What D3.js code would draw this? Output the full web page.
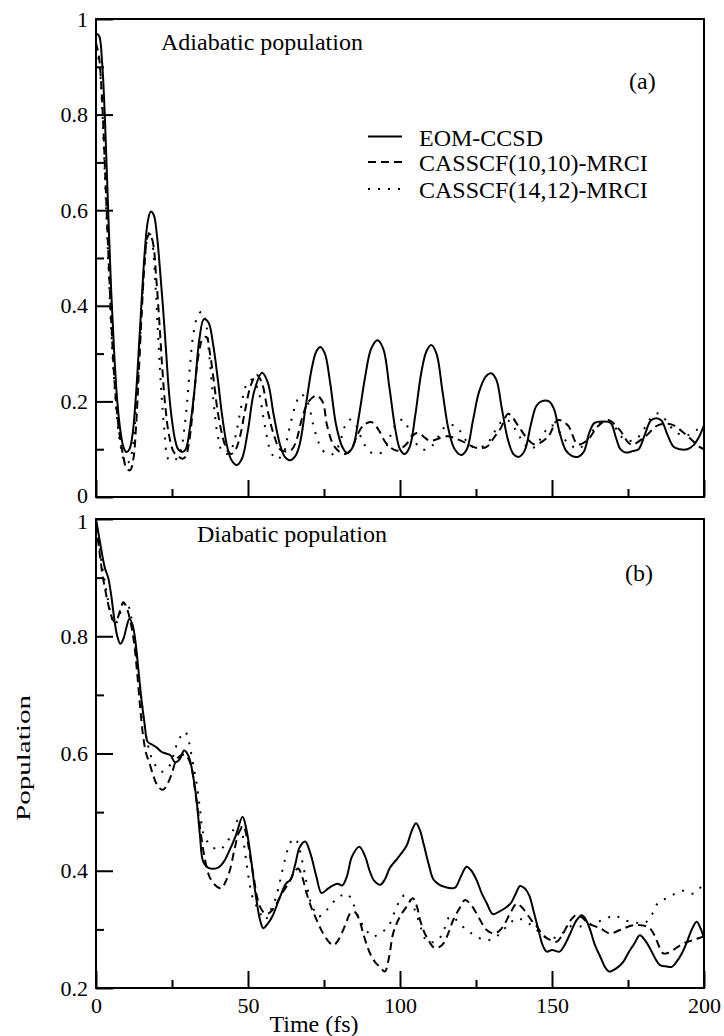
<!DOCTYPE html>
<html>
<head>
<meta charset="utf-8">
<script src="https://cdn.jsdelivr.net/npm/d3@7"></script>
<style>
body { margin: 0; background: #fff; }
svg { display: block; }
text { font-family: "Liberation Serif", "Times New Roman", serif; fill: #000; }
</style>
</head>
<body>
<svg id="chart"></svg>
<script>
// ---- data: [time (fs), population] ----
const seriesNames = ['EOM-CCSD', 'CASSCF(10,10)-MRCI', 'CASSCF(14,12)-MRCI'];

const adiaEom = [[0,.97],[1,.965],[2,.91],[3,.78],[4,.6],[5,.43],[6,.3],[7,.2],[8,.14],[9,.105],[10,.094],[11,.1],[12,.13],[13,.2],[14,.3],[15,.41],[16,.51],[17,.575],[18,.597],[19,.59],[20,.55],[21,.48],[22,.4],[23,.31],[24,.22],[25,.16],[26,.12],[27,.1],[28.3,.094],[29.5,.1],[31,.15],[32.5,.23],[34,.33],[35.5,.372],[37,.365],[38.5,.32],[40,.25],[41.5,.17],[43,.11],[44.5,.078],[46.3,.067],[48,.08],[50,.14],[52,.22],[54.6,.26],[56.5,.24],[58.5,.17],[60.5,.11],[62,.085],[63.8,.077],[65.5,.085],[67,.11],[69,.19],[71,.27],[72.5,.305],[73.8,.314],[75.3,.3],[77,.24],[79,.15],[81,.105],[82.6,.092],[84.5,.105],[86.5,.17],[88.5,.25],[90.5,.31],[92.6,.328],[94.5,.31],[96.5,.23],[98.5,.14],[100,.1],[101.5,.09],[103.2,.105],[105,.17],[107,.26],[108.7,.305],[110.3,.318],[112,.3],[114,.22],[116,.14],[118,.1],[120.2,.088],[122,.1],[124,.16],[126,.22],[128.2,.252],[130,.259],[131.7,.245],[133.5,.185],[135.5,.12],[137.3,.09],[139.1,.084],[141,.097],[143,.15],[144.8,.19],[146.5,.2],[149,.2],[150.6,.185],[152.5,.135],[154.5,.098],[156.5,.086],[158.6,.084],[160.5,.095],[162.3,.135],[164,.155],[167,.158],[169.3,.155],[171,.125],[172.5,.1],[174.2,.093],[176.5,.096],[178.5,.1],[180.5,.13],[182.5,.16],[184.3,.165],[186,.16],[188,.13],[190,.105],[192,.1],[194.5,.1],[196.5,.108],[198.3,.125],[200,.15]];

const adiaMrci10 = [[0,.95],[1,.92],[2,.83],[3,.68],[4,.52],[5,.37],[6,.25],[7,.17],[8,.12],[9,.085],[10,.06],[11.2,.056],[12.3,.08],[13.2,.15],[14,.25],[15,.38],[16,.49],[17,.545],[17.8,.55],[18.8,.53],[19.8,.46],[20.8,.37],[21.8,.27],[22.8,.19],[24,.13],[25.5,.095],[27,.085],[28.5,.08],[29.5,.085],[30.5,.11],[31.5,.16],[32.5,.23],[33.8,.3],[35,.33],[36.3,.335],[37.5,.3],[38.8,.24],[40,.18],[41.5,.13],[43,.1],[44.5,.09],[46,.1],[47.5,.13],[49,.18],[51,.235],[52.8,.256],[54.5,.24],[56.5,.18],[58.5,.13],[60.5,.1],[62.5,.095],[64.5,.1],[66,.12],[68,.17],[70,.2],[72.5,.212],[74.5,.2],[76,.15],[78,.11],[80,.095],[82,.09],[84,.1],[86,.13],[88,.15],[90.5,.157],[93,.14],[95.5,.112],[99,.097],[102,.11],[105.5,.134],[109.9,.118],[115.4,.127],[120,.118],[125,.103],[128.5,.105],[131,.125],[133.3,.146],[135.6,.174],[138.8,.15],[141.5,.125],[144.3,.11],[148.6,.125],[151.9,.161],[155.2,.15],[158.5,.11],[161.8,.12],[165.1,.148],[168.4,.161],[172.2,.141],[176,.11],[180.4,.125],[184.8,.15],[189.2,.152],[193.6,.133],[198.5,.105],[200,.1]];

const adiaMrci14 = [[0,.94],[1,.91],[2,.82],[3,.66],[4,.5],[5,.35],[6,.24],[7,.16],[8,.11],[9,.08],[10,.07],[11,.075],[12,.1],[13,.17],[14,.27],[15,.39],[16,.49],[17,.545],[17.8,.555],[18.6,.53],[19.5,.45],[20.5,.33],[21.5,.22],[22.5,.14],[23.7,.08],[25,.075],[26.5,.08],[28,.1],[29,.14],[30,.2],[31,.28],[32,.34],[33.5,.38],[34.8,.388],[36,.37],[37.2,.3],[38.5,.21],[40,.13],[41.5,.095],[43,.09],[44.5,.1],[46,.13],[47.5,.18],[49.5,.235],[51.5,.246],[53.5,.22],[55.5,.15],[57.5,.095],[59.4,.079],[61.5,.09],[63.5,.14],[65.5,.19],[67.5,.215],[69.5,.2],[71.5,.15],[73.5,.11],[75.5,.092],[78,.09],[80,.11],[82,.15],[83.6,.162],[85.5,.15],[87.5,.12],[90,.095],[92.8,.09],[95,.1],[97,.13],[99,.155],[101,.162],[103,.14],[105,.115],[107,.1],[109,.1],[111,.11],[113,.13],[115,.148],[117.5,.15],[119.5,.14],[121.5,.12],[124,.105],[126.5,.105],[128.5,.11],[130.5,.13],[133,.155],[135,.162],[137,.15],[139,.13],[141,.11],[143,.1],[145,.11],[147,.13],[149.5,.15],[151.5,.145],[153.5,.125],[156,.11],[158.5,.1],[160.5,.11],[162.5,.13],[165,.15],[168,.16],[170.5,.148],[172.5,.128],[175,.118],[177.5,.12],[180,.14],[182.5,.165],[185,.175],[187.5,.16],[190,.14],[192.5,.13],[195,.13],[197.5,.14],[200,.15]];

const diaEom = [[0,1],[1,.97],[2,.94],[3,.915],[4,.9],[5,.87],[6,.83],[7,.8],[8,.787],[9,.795],[10,.815],[11,.83],[12,.82],[13,.79],[14,.74],[15,.69],[16,.65],[17,.62],[18.5,.615],[20,.61],[21.5,.603],[23,.6],[24.5,.597],[26,.585],[27.5,.59],[29,.605],[30.5,.595],[32,.56],[33.1,.52],[34.2,.46],[35.3,.415],[37,.405],[40,.405],[42,.415],[43.5,.43],[46,.46],[48.2,.492],[49.5,.47],[51,.42],[52.5,.36],[54,.315],[55,.302],[56.5,.31],[58,.322],[60.5,.355],[62.5,.378],[64,.385],[65.5,.41],[67,.44],[68.8,.45],[70.5,.43],[72.5,.39],[74.2,.362],[76.4,.37],[78,.375],[79.5,.378],[81,.375],[82.5,.39],[84.2,.424],[86.6,.441],[88.5,.425],[90,.4],[91.5,.383],[93.5,.376],[95,.385],[96.7,.405],[99,.42],[100.5,.43],[102.2,.443],[104,.47],[105.3,.481],[106.5,.47],[107.8,.445],[109.5,.41],[111,.385],[113,.376],[115,.372],[117,.37],[118.3,.372],[120,.39],[121.9,.407],[123.5,.4],[125.2,.384],[127,.36],[128.5,.345],[130.5,.326],[132.5,.33],[134.5,.336],[136.5,.345],[138,.36],[139.5,.374],[141,.37],[142.5,.358],[144,.33],[145.5,.3],[147,.272],[148.3,.262],[150,.265],[152.5,.262],[154,.272],[156,.293],[158,.315],[159.8,.324],[161,.318],[162.5,.3],[164,.275],[166,.252],[167.5,.235],[168.8,.228],[170,.23],[171.8,.236],[173.5,.245],[175,.259],[177,.275],[178.9,.29],[180.5,.282],[182.2,.268],[184,.25],[185.5,.239],[187.5,.237],[189.4,.236],[191,.245],[192.7,.259],[194.5,.28],[196,.3],[197.6,.313],[199,.3],[200,.285]];

const diaMrci10 = [[0,.99],[1,.95],[2,.91],[3,.88],[4,.855],[5,.835],[6,.825],[7,.83],[8,.845],[9,.858],[10,.85],[11.2,.828],[12.5,.79],[13.5,.74],[14.5,.68],[15.5,.63],[16.5,.6],[17.5,.585],[19,.56],[20.5,.543],[22,.538],[23.5,.548],[25,.567],[26.5,.59],[28,.597],[29.3,.598],[30.5,.59],[31.5,.575],[32.5,.54],[33.6,.498],[35,.445],[36,.415],[37.3,.39],[38.6,.379],[40,.372],[41.3,.37],[42.5,.38],[44,.4],[45.5,.435],[47,.465],[48.5,.475],[49.5,.46],[50.7,.424],[52,.385],[53,.355],[54.3,.335],[55.6,.327],[57,.328],[58,.333],[59.5,.345],[61.1,.361],[62.5,.372],[64,.385],[65.3,.398],[66.5,.404],[67.8,.39],[69.3,.361],[71,.335],[72.6,.316],[74,.3],[75.3,.288],[76.7,.278],[78.1,.273],[79.5,.28],[80.8,.293],[82.2,.31],[83.6,.327],[85,.33],[86.5,.318],[87.9,.293],[89.3,.27],[90.7,.253],[92,.243],[93.4,.236],[95,.228],[96.3,.25],[97.8,.294],[100,.322],[102.2,.339],[104.2,.353],[105.5,.34],[106.6,.316],[108,.295],[109.3,.282],[110.5,.272],[111.5,.268],[113,.27],[114.3,.276],[116,.295],[117.5,.316],[119.5,.335],[121.4,.35],[123.3,.342],[125.2,.327],[127,.31],[128.5,.299],[130,.294],[131.2,.293],[132.8,.298],[134.5,.31],[136.5,.33],[138.4,.344],[140,.338],[141.7,.327],[143.3,.315],[145,.305],[146.6,.293],[148.3,.285],[150,.281],[151.6,.279],[153.3,.29],[154.9,.305],[156.5,.318],[158.1,.325],[160,.32],[162,.31],[165.8,.302],[169.1,.293],[172.4,.299],[176.7,.307],[181.1,.305],[182.5,.3],[183.9,.288],[185.3,.27],[186.6,.259],[188.2,.26],[189.9,.265],[193.2,.276],[196.5,.282],[200,.288]];

const diaMrci14 = [[0,1],[1,.96],[2,.92],[3,.89],[4,.86],[5,.835],[6,.82],[7,.825],[8,.84],[9,.855],[9.8,.859],[10.8,.85],[12,.82],[13.5,.76],[15,.69],[16.5,.63],[17.8,.6],[18.9,.586],[20.3,.574],[21.6,.569],[23,.572],[24.3,.58],[25.5,.597],[26.5,.614],[28,.63],[29.3,.637],[30.2,.628],[30.9,.612],[32,.58],[33.1,.549],[34.2,.505],[35.3,.464],[37,.447],[38.5,.44],[40.2,.435],[41.8,.44],[43.5,.452],[45.2,.47],[46.8,.487],[47.8,.475],[48.5,.452],[49.6,.41],[50.7,.373],[51.8,.35],[52.9,.339],[54.3,.325],[55.6,.316],[57.2,.33],[58.9,.35],[60,.37],[61.1,.396],[62.5,.425],[63.8,.447],[65.5,.455],[66.8,.44],[68.2,.407],[69.3,.378],[70.4,.35],[71.7,.333],[73.1,.322],[74.5,.325],[75.9,.333],[77.5,.343],[79.2,.353],[80.8,.358],[82.5,.361],[83.6,.355],[84.6,.344],[86,.325],[87.4,.31],[89,.298],[90.7,.288],[92,.289],[93.4,.293],[94.8,.298],[96.2,.305],[97.5,.32],[98.9,.339],[100.3,.352],[101.6,.359],[103,.352],[104.4,.339],[105.8,.32],[107.1,.299],[108.8,.28],[110.7,.278],[112.6,.282],[114.5,.3],[116.4,.322],[118,.318],[119.7,.31],[121.6,.3],[123.6,.293],[125.5,.287],[127.4,.282],[129.3,.282],[131.2,.285],[133.1,.295],[135.1,.305],[136.7,.313],[138.4,.319],[140,.317],[141.7,.313],[143.3,.306],[145,.299],[146.6,.292],[148.3,.285],[150.2,.285],[152.1,.288],[154,.296],[155.9,.305],[159.2,.305],[163.6,.31],[168,.319],[170.7,.324],[173.5,.316],[176.7,.313],[180,.31],[182.2,.319],[184.4,.342],[186,.349],[187.7,.353],[190.5,.361],[193.2,.366],[196.5,.361],[199.2,.373],[200,.375]];

// ticks
const xTicks = [0, 50, 100, 150, 200];
const xMinorTicks = [25, 75, 125, 175];
const yTicksTop = [0, 0.2, 0.4, 0.6, 0.8, 1];
const yMinorTop = [0.1, 0.3, 0.5, 0.7, 0.9];
const yTicksBottom = [0.2, 0.4, 0.6, 0.8, 1];
const yMinorBottom = [0.3, 0.5, 0.7, 0.9];

// ---- layout ----
const size = {w: 724, h: 1036};
const plot = {l: 96, r: 704};
const dashes = [null, '8,5', '2,8'];

const svg = d3.select('#chart')
    .attr('width', size.w)
    .attr('height', size.h);

const x = d3.scaleLinear().domain([0, 200]).range([plot.l, plot.r]);

const panels = [
    {id: 'a', top: 19, bottom: 497, domain: [0, 1], ticks: yTicksTop, minor: yMinorTop,
     series: [adiaEom, adiaMrci10, adiaMrci14], title: 'Adiabatic population', titleX: 161, titleY: 50,
     tag: '(a)', tagX: 629, tagY: 89, xLabels: false, nudge: {0: -2}},
    {id: 'b', top: 519, bottom: 988, domain: [0.2, 1], ticks: yTicksBottom, minor: yMinorBottom,
     series: [diaEom, diaMrci10, diaMrci14], title: 'Diabatic population', titleX: 197, titleY: 542,
     tag: '(b)', tagX: 625, tagY: 581, xLabels: true, nudge: {1: 2}}
];

panels.forEach(drawPanel);

// axis titles
svg.append('text')
    .attr('x', 314).attr('y', 1032)
    .attr('text-anchor', 'middle')
    .style('font-size', '24px')
    .text('Time (fs)');

svg.append('text')
    .attr('transform', 'translate(30,758) rotate(-90)')
    .attr('text-anchor', 'middle')
    .attr('textLength', 126)
    .attr('lengthAdjust', 'spacingAndGlyphs')
    .style('font-size', '19px')
    .text('Population');

// legend (top panel)
const legend = svg.append('g').classed('legend', true);
const legendY = [145.5, 171, 198];
seriesNames.forEach((name, i) => {
    legend.append('line')
        .attr('x1', 368).attr('x2', 402)
        .attr('y1', legendY[i] - 9).attr('y2', legendY[i] - 9)
        .attr('stroke', '#000').attr('stroke-width', 2)
        .attr('stroke-dasharray', dashes[i]);
    legend.append('text')
        .attr('x', 419).attr('y', legendY[i])
        .style('font-size', '24px')
        .text(name);
});


//Draw one panel
function drawPanel(p) {
    const y = d3.scaleLinear().domain(p.domain).range([p.bottom, p.top]);
    const g = svg.append('g').classed('panel-' + p.id, true);

    g.append('clipPath').attr('id', 'clip-' + p.id)
        .append('rect')
        .attr('x', plot.l).attr('y', p.top)
        .attr('width', plot.r - plot.l).attr('height', p.bottom - p.top);

    const line = d3.line()
        .x(d => x(d[0]))
        .y(d => y(d[1]))
        .curve(d3.curveCatmullRom.alpha(0.5));

    g.append('g').attr('clip-path', `url(#clip-${p.id})`)
        .selectAll('path')
        .data(p.series)
        .enter()
        .append('path')
        .attr('d', d => line(d))
        .attr('fill', 'none')
        .attr('stroke', '#000')
        .attr('stroke-width', 2)
        .attr('stroke-dasharray', (d, i) => dashes[i]);

    // y axis, ticks pointing inward
    const yMajor = g.append('g')
        .attr('transform', `translate(${plot.l},0)`)
        .call(d3.axisLeft(y).tickValues(p.ticks).tickSize(-17).tickPadding(8)
            .tickFormat(d => d3.format('~g')(d)));
    const yMinor = g.append('g')
        .attr('transform', `translate(${plot.l},0)`)
        .call(d3.axisLeft(y).tickValues(p.minor).tickSize(-8).tickFormat(''));

    // the 0 and 1 labels sit close where the panels meet
    yMajor.selectAll('.tick text')
        .attr('y', d => p.nudge[d] || 0);

    const xMajor = g.append('g')
        .attr('transform', `translate(0,${p.bottom})`)
        .call(d3.axisBottom(x).tickValues(xTicks).tickSize(-17).tickPadding(9)
            .tickFormat(p.xLabels ? d3.format('d') : ''));
    const xMinor = g.append('g')
        .attr('transform', `translate(0,${p.bottom})`)
        .call(d3.axisBottom(x).tickValues(xMinorTicks).tickSize(-8).tickFormat(''));

    [yMajor, yMinor, xMajor, xMinor].forEach(a => {
        a.select('.domain').remove();
        a.selectAll('.tick line').attr('stroke', '#000').attr('stroke-width', 2);
        a.selectAll('.tick text')
            .style('font-family', '"Liberation Serif", "Times New Roman", serif')
            .style('font-size', '22px');
    });

    g.append('rect')
        .attr('x', plot.l).attr('y', p.top)
        .attr('width', plot.r - plot.l).attr('height', p.bottom - p.top)
        .attr('fill', 'none')
        .attr('stroke', '#000')
        .attr('stroke-width', 2);

    g.append('text')
        .attr('x', p.titleX).attr('y', p.titleY)
        .style('font-size', '24px')
        .text(p.title);

    g.append('text')
        .attr('x', p.tagX).attr('y', p.tagY)
        .style('font-size', '24px')
        .text(p.tag);
}
</script>
</body>
</html>
